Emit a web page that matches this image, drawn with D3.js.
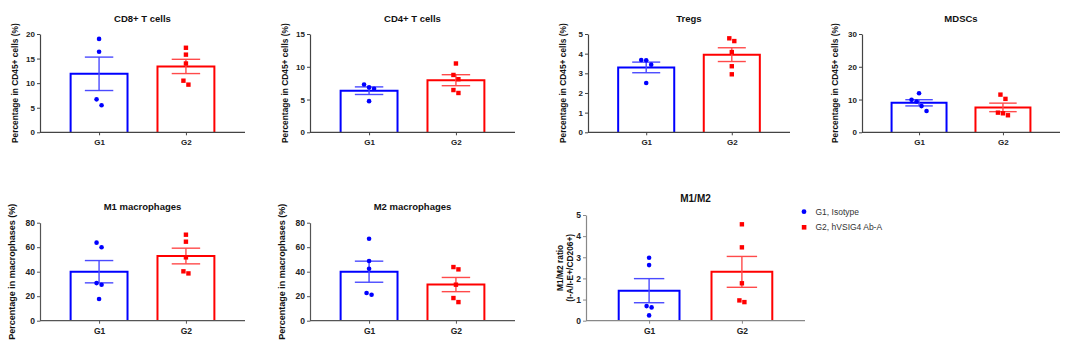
<!DOCTYPE html>
<html>
<head>
<meta charset="utf-8">
<script src="https://cdn.jsdelivr.net/npm/d3@7"></script>
<style>
body { margin: 0; background: #fff; }
svg { font-family: "Liberation Sans", Arial, sans-serif; }
</style>
</head>
<body>
<div id="chart-area"></div>
<script>
// DATA
var groups = ["G1", "G2"]
var legendLabels = ["G1, Isotype", "G2, hVSIG4 Ab-A"]

var titles = ["CD8+ T cells", "CD4+ T cells", "Tregs", "MDSCs", "M1 macrophages", "M2 macrophages", "M1/M2"]
var yLabels = [
  ["Percentage in CD45+ cells (%)"],
  ["Percentage in CD45+ cells (%)"],
  ["Percentage in CD45+ cells (%)"],
  ["Percentage in CD45+ cells (%)"],
  ["Percentage in macrophases (%)"],
  ["Percentage in macrophases (%)"],
  ["M1/M2 ratio", "(I-A/I-E+/CD206+)"]
]

var yTicks = [
  [0, 5, 10, 15, 20],
  [0, 5, 10, 15],
  [0, 1, 2, 3, 4, 5],
  [0, 10, 20, 30],
  [0, 20, 40, 60, 80],
  [0, 20, 40, 60, 80],
  [0, 1, 2, 3, 4, 5]
]

// individual animals
var cd8G1 = [19.0, 16.4, 6.7, 5.5]
var cd8G2 = [17.2, 15.8, 14.0, 10.5, 9.7]
var cd4G1 = [7.3, 6.85, 6.65, 4.75]
var cd4G2 = [10.5, 8.75, 8.1, 6.45, 6.0]
var tregG1 = [3.68, 3.66, 3.44, 2.51]
var tregG2 = [4.78, 4.64, 4.08, 3.36, 2.95]
var mdscG1 = [11.9, 9.9, 9.4, 8.0, 6.5]
var mdscG2 = [11.5, 10.2, 6.0, 5.8, 5.2]
var m1G1 = [63.7, 59.9, 30.7, 29.4, 17.7]
var m1G2 = [70.2, 64.5, 51.7, 40.3, 38.6]
var m2G1 = [66.9, 48.7, 42.4, 22.6, 21.2]
var m2G2 = [43.8, 41.9, 29.4, 18.5, 15.2]
var ratioG1 = [2.98, 2.63, 0.69, 0.63, 0.25]
var ratioG2 = [4.56, 3.47, 1.77, 0.96, 0.88]

// mean and SEM as plotted
var meansG1 = [11.9, 6.35, 3.3, 9.0, 40.0, 40.0, 1.42]
var meansG2 = [13.4, 7.95, 3.95, 7.6, 52.8, 29.5, 2.31]
var semsG1 = [3.4, 0.58, 0.27, 0.95, 9.1, 8.6, 0.57]
var semsG2 = [1.45, 0.84, 0.35, 1.3, 6.4, 5.8, 0.73]

var pointsG1 = [cd8G1, cd4G1, tregG1, mdscG1, m1G1, m2G1, ratioG1]
var pointsG2 = [cd8G2, cd4G2, tregG2, mdscG2, m1G2, m2G2, ratioG2]

var colors = ["#0000ff", "#ff0000"]
var errColors = ["#4a4aff", "#ff4a4a"]

// LAYOUT
var layout = [
  {x0: 40, x1: 245, top: 34, bottom: 132.3, title: 21.5, lx: 15, fs: 8, lfs: 8.4, axis: "#444"},
  {x0: 310, x1: 515, top: 34, bottom: 132.3, title: 21.5, lx: 285, fs: 8, lfs: 8.4, axis: "#444"},
  {x0: 588, x1: 790, top: 34, bottom: 132.3, title: 21.5, lx: 563, fs: 8, lfs: 8.4, axis: "#444"},
  {x0: 862, x1: 1060, top: 34, bottom: 132.3, title: 21.5, lx: 835, fs: 8, lfs: 8.4, axis: "#444"},
  {x0: 40, x1: 245, top: 222.7, bottom: 320.7, title: 210, lx: 11.5, fs: 8.5, lfs: 9, axis: "#555"},
  {x0: 310, x1: 515, top: 222.7, bottom: 320.7, title: 210, lx: 281.5, fs: 8.5, lfs: 9, axis: "#555"},
  {x0: 586, x1: 805, top: 215, bottom: 320.7, title: 202, lx: 565, fs: 8.5, lfs: 8.4, axis: "#888"}
]

var svg = d3.select("#chart-area").append("svg")
.attr("width", 1080)
.attr("height", 350)

// spread points that sit on top of each other, like a column scatter
var spread = (vals, y, cx) => {
  var pts = vals.map(v => ({v: v, py: y(v)})).sort((a, b) => a.py - b.py)
  var clusters = []
  pts.forEach(p => {
    var last = clusters[clusters.length - 1]
    if (last && p.py - last[last.length - 1].py < 6.3) last.push(p)
    else clusters.push([p])
  })
  clusters.forEach(c => {
    c.forEach((p, i) => { p.px = cx + (i - (c.length - 1) / 2) * 5 })
  })
  return pts
}

layout.forEach((L, k) => {
  var g = svg.append("g")

  var x = d3.scalePoint()
  .domain(groups)
  .range([L.x0, L.x1])
  .padding(0.68)

  var y = d3.scaleLinear()
  .domain([0, d3.max(yTicks[k])])
  .range([L.bottom, L.top])

  var bw = x.step() * 0.655
  var means = [meansG1[k], meansG2[k]]
  var sems = [semsG1[k], semsG2[k]]
  var pts = [pointsG1[k], pointsG2[k]]

  // title
  g.append("text")
  .attr("x", (L.x0 + L.x1) / 2)
  .attr("y", L.title)
  .attr("text-anchor", "middle")
  .attr("font-size", k == 6 ? "10px" : "9.5px")
  .attr("font-weight", "bold")
  .style("fill", "#111")
  .text(titles[k])

  // y label
  var lab = g.append("text")
  .attr("transform", "translate(" + L.lx + "," + (L.top + L.bottom) / 2 + ") rotate(-90)")
  .attr("text-anchor", "middle")
  .attr("font-size", L.lfs + "px")
  .attr("font-weight", "bold")
  .style("fill", "#111")
  if (yLabels[k].length == 1) {
    lab.attr("dy", "0.35em").text(yLabels[k][0])
  } else {
    yLabels[k].forEach((t, i) => {
      lab.append("tspan")
      .attr("x", 0)
      .attr("dy", i == 0 ? "-0.25em" : "1.15em")
      .text(t)
    })
  }

  // bars (open at the bottom, they stand on the axis)
  groups.forEach((grp, i) => {
    var xl = x(grp) - bw / 2
    g.append("path")
    .attr("d", "M" + xl + "," + y(0) + "V" + y(means[i]) + "H" + (xl + bw) + "V" + y(0))
    .attr("fill", "#fff")
    .attr("stroke", colors[i])
    .attr("stroke-width", 2)
  })

  // error bars
  groups.forEach((grp, i) => {
    var cx = x(grp)
    var cw = bw * 0.25
    var eb = g.append("g")
    .attr("stroke", errColors[i])
    .attr("stroke-width", 1.4)
    eb.append("line")
    .attr("x1", cx).attr("x2", cx)
    .attr("y1", y(means[i] + sems[i])).attr("y2", y(means[i] - sems[i]))
    ;[means[i] + sems[i], means[i] - sems[i]].forEach(v => {
      eb.append("line")
      .attr("x1", cx - cw).attr("x2", cx + cw)
      .attr("y1", y(v)).attr("y2", y(v))
    })
  })

  // points
  groups.forEach((grp, i) => {
    var p = spread(pts[i], y, x(grp))
    if (i == 0) {
      g.selectAll(null).data(p).enter().append("circle")
      .attr("cx", d => d.px)
      .attr("cy", d => d.py)
      .attr("r", 2.3)
      .attr("fill", colors[i])
    } else {
      g.selectAll(null).data(p).enter().append("rect")
      .attr("x", d => d.px - 2.2)
      .attr("y", d => d.py - 2.2)
      .attr("width", 4.4)
      .attr("height", 4.4)
      .attr("fill", colors[i])
    }
  })

  // axes
  var yAxis = g.append("g")
  .attr("transform", "translate(" + L.x0 + ",0)")
  .call(d3.axisLeft(y).tickValues(yTicks[k]).tickFormat(d => d).tickSize(3).tickPadding(2).tickSizeOuter(0))
  var xAxis = g.append("g")
  .attr("transform", "translate(0," + L.bottom + ")")
  .call(d3.axisBottom(x).tickSize(3).tickPadding(4).tickSizeOuter(0))

  ;[yAxis, xAxis].forEach(a => {
    a.select(".domain").attr("stroke", L.axis).attr("stroke-width", 1.2)
    a.selectAll(".tick line").attr("stroke", L.axis)
    a.selectAll("text")
    .attr("font-size", L.fs + "px")
    .attr("font-weight", "bold")
    .attr("font-family", "Liberation Sans, Arial, sans-serif")
    .style("fill", "#222")
  })
  xAxis.select(".domain").attr("d", "M" + L.x0 + ",0H" + L.x1)
})

// legend
var legend = svg.append("g")
legendLabels.forEach((t, i) => {
  var ly = 211.7 + i * 15.6
  if (i == 0) {
    legend.append("circle").attr("cx", 804).attr("cy", ly).attr("r", 2.4).attr("fill", colors[0])
  } else {
    legend.append("rect").attr("x", 801.8).attr("y", ly - 2.3).attr("width", 4.6).attr("height", 4.6).attr("fill", colors[1])
  }
  legend.append("text")
  .attr("x", 815.5)
  .attr("y", ly + 3)
  .attr("font-size", "8.5px")
  .style("fill", "#333")
  .text(t)
})
</script>
</body>
</html>
